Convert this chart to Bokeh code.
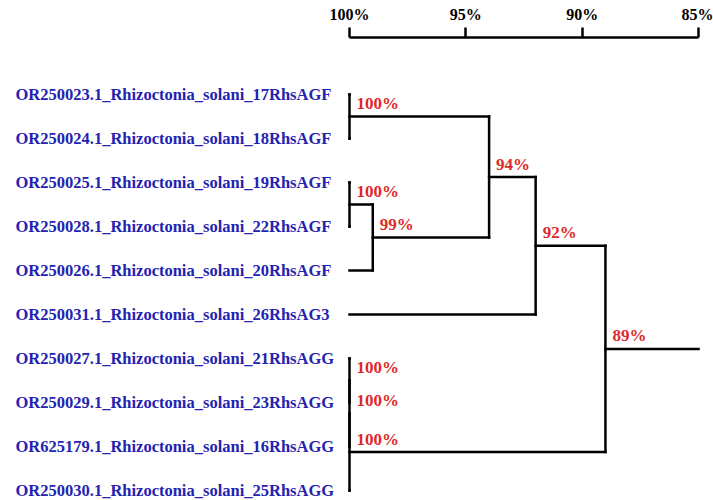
from bokeh.plotting import figure
from bokeh.models import Range1d, LinearAxis, FixedTicker, ColumnDataSource
from bokeh.core.properties import value
from bokeh.embed import file_html
from bokeh.resources import INLINE

leaf_names = [
    "OR250023.1_Rhizoctonia_solani_17RhsAGF",
    "OR250024.1_Rhizoctonia_solani_18RhsAGF",
    "OR250025.1_Rhizoctonia_solani_19RhsAGF",
    "OR250028.1_Rhizoctonia_solani_22RhsAGF",
    "OR250026.1_Rhizoctonia_solani_20RhsAGF",
    "OR250031.1_Rhizoctonia_solani_26RhsAG3",
    "OR250027.1_Rhizoctonia_solani_21RhsAGG",
    "OR250029.1_Rhizoctonia_solani_23RhsAGG",
    "OR625179.1_Rhizoctonia_solani_16RhsAGG",
    "OR250030.1_Rhizoctonia_solani_25RhsAGG",
]
# merges: indices >= 10 refer to earlier merges (10 + merge index)
merge_left = [0, 2, 11, 10, 13, 6, 15, 16, 14]
merge_right = [1, 3, 4, 12, 5, 7, 8, 9, 17]
merge_sim = [100, 100, 99, 94, 92, 100, 100, 100, 89]
node_labels = ["100%", "100%", "99%", "94%", "92%", "100%", "100%", "100%", "89%"]
axis_ticks = [100, 95, 90, 85]

n = len(leaf_names)
pos_x = [100.0] * n
pos_y = [float(i) for i in range(n)]
x0, y0, x1, y1 = [], [], [], []
for a, b, s in zip(merge_left, merge_right, merge_sim):
    for c in (a, b):
        x0.append(pos_x[c]); y0.append(pos_y[c]); x1.append(s); y1.append(pos_y[c])
    x0.append(s); y0.append(pos_y[a]); x1.append(s); y1.append(pos_y[b])
    pos_x.append(float(s))
    pos_y.append((pos_y[a] + pos_y[b]) / 2)
x0.append(pos_x[-1]); y0.append(pos_y[-1]); x1.append(axis_ticks[-1]); y1.append(pos_y[-1])

W, H = 713, 500
ppx = (698 - 349) / 15.0  # px per percent
x_start = 100 + 349 / ppx
x_end = 85 - (W - 698) / ppx

frame_top = 37.0
p = figure(width=W, height=H, output_backend="svg", toolbar_location=None,
           x_axis_location=None, y_axis_location=None,
           min_border_left=0, min_border_right=0, min_border_bottom=0,
           min_border_top=int(frame_top))
p.x_range = Range1d(x_start, x_end)
leaf_px0 = 94.0
leaf_step = (490.0 - 94.0) / 9
frame_bot = float(H)
p.y_range = Range1d((frame_bot - leaf_px0) / leaf_step, (frame_top - leaf_px0) / leaf_step)
p.grid.visible = False
p.outline_line_color = None
p.background_fill_color = "white"
p.border_fill_color = "white"

ax = LinearAxis(ticker=FixedTicker(ticks=axis_ticks), bounds=(85, 100))
ax.major_label_overrides = {t: f"{t}%" for t in axis_ticks}
ax.major_tick_in = 0
ax.major_tick_out = 10
ax.minor_tick_in = 0
ax.minor_tick_out = 0
ax.axis_line_width = 2.5
ax.major_tick_line_width = 2.5
ax.axis_line_color = "black"
ax.major_tick_line_color = "black"
ax.major_label_text_font = "Liberation Serif"
ax.major_label_text_font_style = "bold"
ax.major_label_text_font_size = "16px"
ax.major_label_text_color = "black"
ax.major_label_standoff = 5
p.add_layout(ax, "above")

seg = ColumnDataSource(dict(x0=x0, y0=y0, x1=x1, y1=y1))
p.segment("x0", "y0", "x1", "y1", source=seg, line_color="black", line_width=2.5,
          line_cap="square")

leaf_src = ColumnDataSource(dict(x=[x_start] * n, y=pos_y[:n], t=leaf_names))
p.text("x", "y", text="t", source=leaf_src, x_offset=15, text_align="left",
       text_baseline="middle", text_font=value("Liberation Serif"),
       text_font_style="bold", text_font_size="16.5px", text_color="#2323b0")

node_src = ColumnDataSource(dict(x=pos_x[n:], y=pos_y[n:], t=node_labels))
p.text("x", "y", text="t", source=node_src, x_offset=7, y_offset=-13,
       text_align="left", text_baseline="alphabetic",
       text_font=value("Liberation Serif"), text_font_style="bold",
       text_font_size="17px", text_color="#dd2a2a")

open("out.html", "w").write(file_html(p, INLINE))
